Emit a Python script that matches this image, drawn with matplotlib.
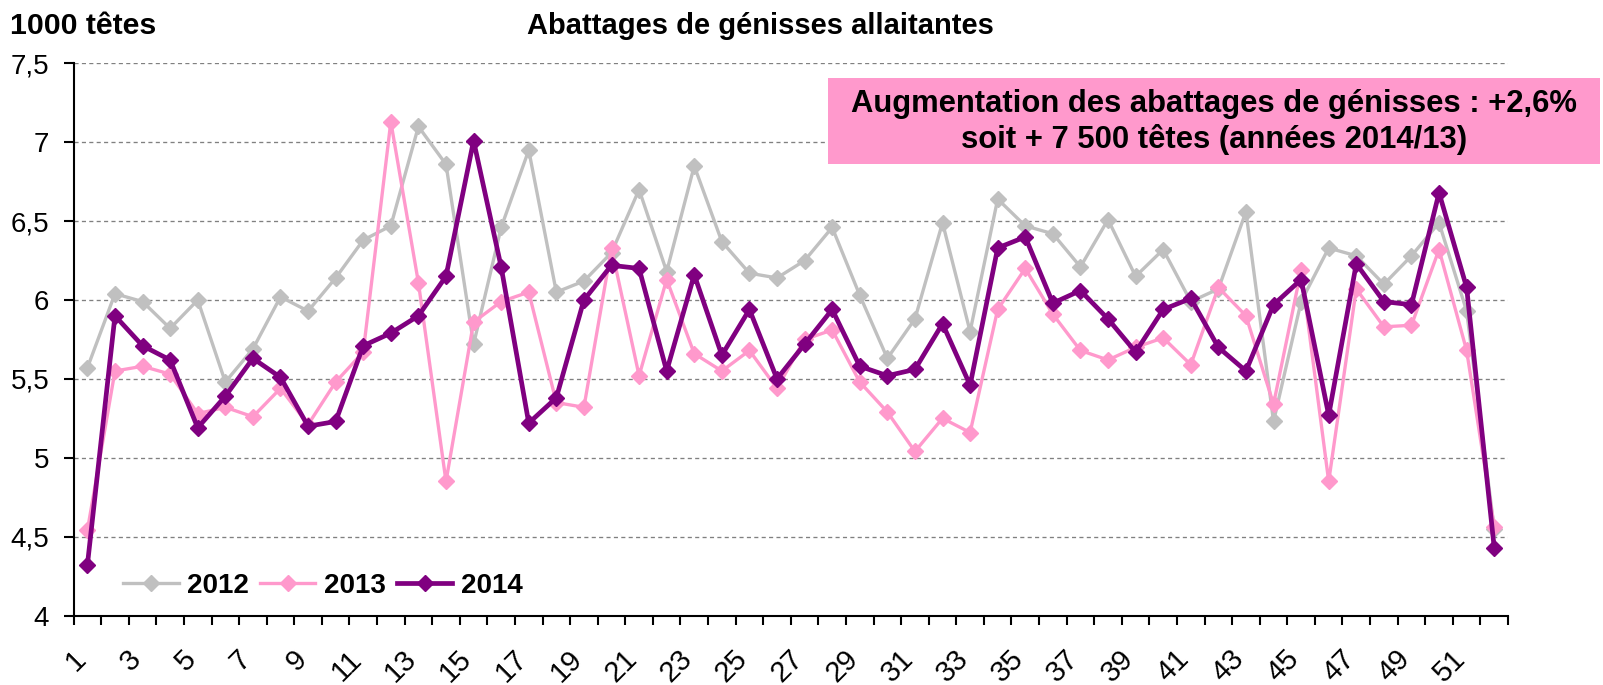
import matplotlib
matplotlib.use("Agg")
import matplotlib.pyplot as plt
import matplotlib.transforms as mtransforms
from matplotlib.patches import Rectangle

plt.rcParams['font.family'] = ['Liberation Sans', 'DejaVu Sans']

weeks = list(range(1, 53))
y2012 = [5.57, 6.04, 5.99, 5.82, 6.00, 5.48, 5.69, 6.02, 5.93, 6.14, 6.38, 6.47, 7.10,
         6.86, 5.72, 6.46, 6.95, 6.05, 6.12, 6.30, 6.70, 6.18, 6.85, 6.37, 6.17, 6.14,
         6.25, 6.46, 6.03, 5.63, 5.88, 6.49, 5.80, 6.64, 6.47, 6.42, 6.21, 6.51, 6.15,
         6.32, 5.99, 6.07, 6.56, 5.23, 5.99, 6.33, 6.28, 6.10, 6.28, 6.49, 5.93, 4.55]
y2013 = [4.54, 5.55, 5.58, 5.53, 5.28, 5.32, 5.26, 5.44, 5.21, 5.48, 5.67, 7.13, 6.11,
         4.85, 5.86, 5.99, 6.05, 5.35, 5.32, 6.33, 5.52, 6.13, 5.66, 5.55, 5.68, 5.44,
         5.75, 5.81, 5.48, 5.29, 5.04, 5.25, 5.16, 5.94, 6.20, 5.91, 5.68, 5.62, 5.70,
         5.76, 5.59, 6.08, 5.90, 5.34, 6.19, 4.85, 6.07, 5.83, 5.84, 6.32, 5.68, 4.56]
y2014 = [4.32, 5.90, 5.71, 5.62, 5.19, 5.39, 5.63, 5.51, 5.20, 5.23, 5.71, 5.79, 5.90,
         6.15, 7.01, 6.21, 5.22, 5.38, 6.00, 6.22, 6.20, 5.55, 6.16, 5.65, 5.94, 5.50,
         5.72, 5.94, 5.58, 5.52, 5.56, 5.85, 5.46, 6.33, 6.40, 5.98, 6.06, 5.88, 5.67,
         5.94, 6.01, 5.70, 5.55, 5.97, 6.13, 5.27, 6.23, 5.99, 5.97, 6.68, 6.08, 4.43]

series_names = ['2012', '2013', '2014']
y_ticks = [4, 4.5, 5, 5.5, 6, 6.5, 7, 7.5]
y_tick_labels = ['4', '4,5', '5', '5,5', '6', '6,5', '7', '7,5']
x_label_weeks = list(range(1, 52, 2))

title = 'Abattages de génisses allaitantes'
unit = '1000 têtes'
note = 'Augmentation des abattages de génisses : +2,6%\nsoit + 7 500 têtes (années 2014/13)'

W, H = 1603, 685
fig = plt.figure(figsize=(W / 100, H / 100), dpi=100)
ax = fig.add_axes([73.6 / W, 69.5 / H, (1508 - 73.6) / W, (615.5 - 63.4) / H])

ax.plot(weeks, y2012, color='#C0C0C0', lw=2.4, marker='D', ms=8.0, label=series_names[0], zorder=3)
ax.plot(weeks, y2013, color='#FF99CC', lw=2.4, marker='D', ms=8.0, label=series_names[1], zorder=4)
ax.plot(weeks, y2014, color='#800080', lw=3.4, marker='D', ms=8.3, label=series_names[2], zorder=5)

ax.set_xlim(0.5, len(weeks) + 0.5)
ax.set_ylim(4, 7.5)

ax.set_yticks(y_ticks)
ax.set_yticklabels(y_tick_labels, fontsize=20)
ax.yaxis.grid(True, color='#808080', linestyle=(0, (3.1, 2.5)), lw=0.95)
ax.set_axisbelow(True)

ax.set_xticks(x_label_weeks)
ax.set_xticklabels([str(w) for w in x_label_weeks], fontsize=21, rotation=45,
                   ha='right', va='top', rotation_mode='anchor')
ax.set_xticks([w - 0.5 for w in weeks] + [len(weeks) + 0.5], minor=True)
ax.tick_params(axis='x', which='major', length=0, pad=21)
ax.tick_params(axis='x', which='minor', length=6.5, width=1.5, color='black', direction='out')
ax.tick_params(axis='y', length=7.2, width=1.5, color='black', direction='out', pad=10.4)
offset = mtransforms.ScaledTranslation(-16 / 100, 0, fig.dpi_scale_trans)
for lbl in ax.get_xticklabels():
    lbl.set_transform(lbl.get_transform() + offset)

for s in ['top', 'right']:
    ax.spines[s].set_visible(False)
for s in ['left', 'bottom']:
    ax.spines[s].set_linewidth(1.5)
    ax.spines[s].set_color('black')

leg = ax.legend(loc='center left', bbox_to_anchor=(123 / W, (H - 586) / H),
                bbox_transform=fig.transFigure, ncol=3, frameon=False,
                borderpad=0, borderaxespad=0, handlelength=2.0, handletextpad=0.3,
                columnspacing=0.4, prop={'size': 20, 'weight': 'bold'})

fig.text(10 / W, 1 - 26 / H, unit, fontsize=21.8, fontweight='bold', ha='left', va='center')
fig.text(760 / W, 1 - 26 / H, title, fontsize=21, fontweight='bold', ha='center', va='center')

fig.patches.append(Rectangle((828 / W, 1 - 164 / H), (1600 - 828) / W, (164 - 78) / H,
                             transform=fig.transFigure, facecolor='#FF99CC',
                             edgecolor='none', zorder=10))
fig.text(1214 / W, 1 - 122 / H, note, fontsize=22.3, fontweight='bold', ha='center',
         va='center', linespacing=1.2, zorder=11)

fig.savefig('out.png', dpi=100)
